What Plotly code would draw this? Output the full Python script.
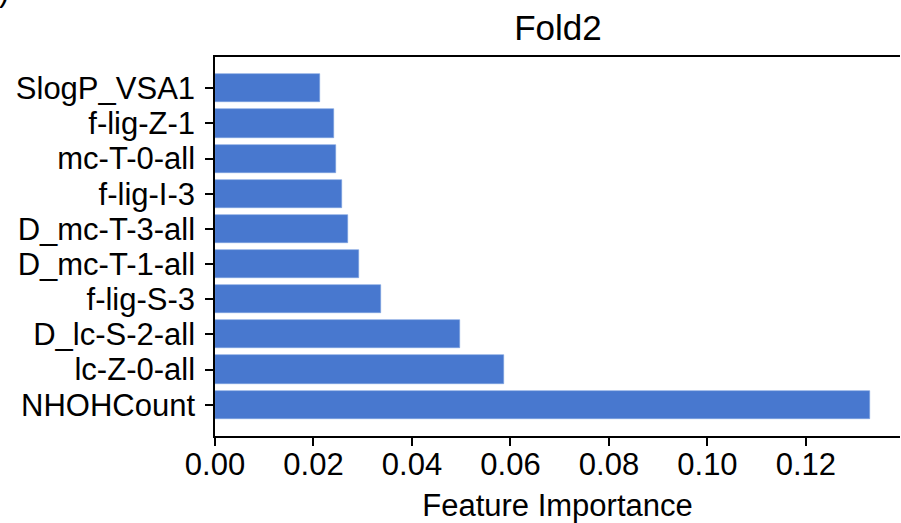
"""
Feature importance bar chart (Fold2)
"""

import plotly.graph_objs as go

# Data, bottom to top as drawn
features = ["NHOHCount", "lc-Z-0-all", "D_lc-S-2-all", "f-lig-S-3", "D_mc-T-1-all",
            "D_mc-T-3-all", "f-lig-I-3", "mc-T-0-all", "f-lig-Z-1", "SlogP_VSA1"]
importances = [0.1331, 0.0586, 0.0497, 0.0337, 0.0292,
               0.0270, 0.0258, 0.0245, 0.0241, 0.0213]
x_ticks = [0.00, 0.02, 0.04, 0.06, 0.08, 0.10, 0.12]

FONT = "Liberation Sans, Arial, sans-serif"

fig = go.Figure()
fig.add_trace(go.Bar(
    x=importances,
    y=list(range(len(features))),
    orientation="h",
    width=0.8,
    marker=dict(color="#4878cf", line=dict(color="#7a9fe0", width=0.6)),
    showlegend=False,
))

fig.update_layout(
    width=901, height=523,
    paper_bgcolor="white", plot_bgcolor="white",
    margin=dict(l=215, r=1, t=57, b=87),
    font=dict(family=FONT, size=31, color="black"),
    title=dict(text="Fold2", x=(558 - 215) / (901 - 216), xref="paper",
               y=1 - 28 / 523, yref="container",
               xanchor="center", yanchor="middle", font=dict(size=35)),
    bargap=0,
    # clipped panel letter in the top-left corner
    annotations=[dict(text=")", x=0, y=1 + (57 - 10) / 379, xref="paper", yref="paper",
                      xanchor="left", yanchor="bottom", showarrow=False,
                      xshift=-218, font=dict(size=31))],
)

fig.update_xaxes(
    range=[0, 0.1391],
    tickvals=x_ticks,
    ticktext=[f"{v:.2f}" for v in x_ticks],
    ticks="outside", ticklen=8, tickwidth=1.5, tickcolor="black",
    ticklabelstandoff=-8,
    showline=True, linecolor="black", linewidth=1.5, mirror=True,
    showgrid=False, zeroline=False, automargin=False,
    title=dict(text="Feature Importance", font=dict(size=31), standoff=14),
)
fig.update_yaxes(
    range=[-0.89, 9.89],
    tickvals=list(range(len(features))),
    ticktext=features,
    ticks="outside", ticklen=8, tickwidth=1.5, tickcolor="black",
    ticklabelstandoff=4,
    showline=True, linecolor="black", linewidth=1.5, mirror=False,
    showgrid=False, zeroline=False, automargin=False,
)

# drop the page's default body margin so the figure sits at the window origin
fig.write_html("out.html", config={"displayModeBar": False},
               post_script="document.body.style.margin='0';")
